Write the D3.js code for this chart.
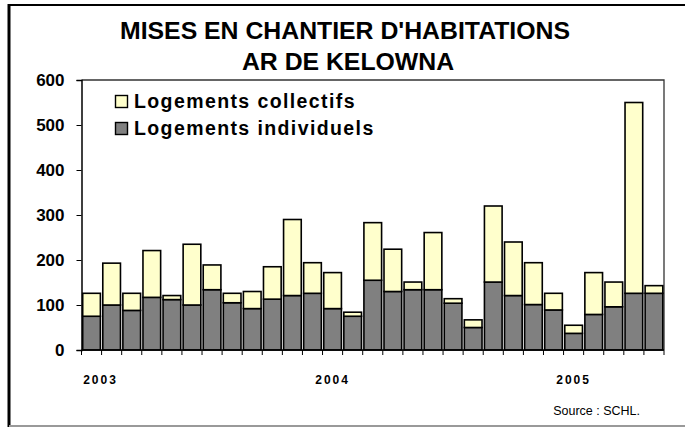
<!DOCTYPE html>
<html><head><meta charset="utf-8">
<script src="https://cdn.jsdelivr.net/npm/d3@7/dist/d3.min.js"></script>
<style>body{margin:0;background:#fff}svg{display:block}</style>
</head><body>
<script>
const months = ["2003-01","2003-02","2003-03","2003-04","2003-05","2003-06","2003-07","2003-08","2003-09","2003-10","2003-11","2003-12",
"2004-01","2004-02","2004-03","2004-04","2004-05","2004-06","2004-07","2004-08","2004-09","2004-10","2004-11","2004-12",
"2005-01","2005-02","2005-03","2005-04","2005-05"];
const individuels = [75,100,88,117,112,100,134,105,92,113,121,126,92,75,155,130,134,134,104,50,151,121,101,89,37,79,96,126,126];
const totals = [126,193,126,221,121,235,189,126,130,185,290,194,172,84,283,224,151,261,114,67,320,240,194,126,55,172,151,550,143];
const collectifs = totals.map((t,i)=>t-individuels[i]);
const yearLabels = ["2003","2004","2005"];
const yearLabelMonth = ["2003-01","2004-01","2005-01"];
const yTicks = [0,100,200,300,400,500,600];
const seriesNames = ["Logements collectifs","Logements individuels"];
const seriesColors = ["#FFFFCC","#808080"];

const W=685,H=427;
const FONT="Liberation Sans, Arial, sans-serif";
const svg=d3.select("body").append("svg").attr("width",W).attr("height",H);
svg.append("rect").attr("width",W).attr("height",H).attr("fill","#fff");
// outer frame
svg.append("line").attr("x1",9).attr("x2",W).attr("y1",5).attr("y2",5).attr("stroke","#000").attr("stroke-width",2);
svg.append("line").attr("x1",9).attr("x2",9).attr("y1",4).attr("y2",427).attr("stroke","#000").attr("stroke-width",3);
svg.append("line").attr("x1",9).attr("x2",W).attr("y1",426).attr("y2",426).attr("stroke","#999").attr("stroke-width",2);

const L=81.5,R=664,T=80,B=350;
const x=d3.scaleBand().domain(months).range([L,R]).paddingInner(0.12).paddingOuter(0.06);
const y=d3.scaleLinear().domain([0,600]).range([B,T]);

// title
svg.append("text").attr("x",345).attr("y",39).attr("text-anchor","middle")
 .attr("font-family",FONT).attr("font-weight","bold").attr("font-size",24.8)
 .text("MISES EN CHANTIER D'HABITATIONS");
svg.append("text").attr("x",348).attr("y",70).attr("text-anchor","middle")
 .attr("font-family",FONT).attr("font-weight","bold").attr("font-size",24.8)
 .text("AR DE KELOWNA");

// plot frame
svg.append("path").attr("d",`M${L},${T}H${R}V${B}`).attr("fill","none").attr("stroke","#333").attr("stroke-width",1.3);

// bars
const stack = months.map((m,i)=>({m,ind:individuels[i],col:collectifs[i]}));
const g=svg.append("g");
g.selectAll("rect.ind").data(stack).join("rect").attr("class","ind")
 .attr("x",d=>x(d.m)).attr("width",x.bandwidth())
 .attr("y",d=>y(d.ind)).attr("height",d=>y(0)-y(d.ind))
 .attr("fill",seriesColors[1]).attr("stroke","#000").attr("stroke-width",1.6);
g.selectAll("rect.col").data(stack).join("rect").attr("class","col")
 .attr("x",d=>x(d.m)).attr("width",x.bandwidth())
 .attr("y",d=>y(d.ind+d.col)).attr("height",d=>y(d.ind)-y(d.ind+d.col))
 .attr("fill",seriesColors[0]).attr("stroke","#000").attr("stroke-width",1.6);

// y axis
const ya=svg.append("g").attr("transform",`translate(${L},0)`)
 .call(d3.axisLeft(y).tickValues(yTicks).tickSize(5).tickPadding(12));
ya.select(".domain").attr("stroke","#000").attr("stroke-width",1.5);
ya.selectAll(".tick line").attr("stroke","#000");
ya.selectAll("text").attr("font-family",FONT).attr("font-weight","bold").attr("font-size",17).attr("fill","#000");

// x axis
svg.append("line").attr("x1",L).attr("x2",R).attr("y1",B).attr("y2",B).attr("stroke","#000").attr("stroke-width",1.5);
const bounds=d3.range(months.length+1);
svg.append("g").selectAll("line").data(bounds).join("line")
 .attr("x1",i=>L+i*(R-L)/months.length).attr("x2",i=>L+i*(R-L)/months.length)
 .attr("y1",B).attr("y2",B+5).attr("stroke","#000").attr("stroke-width",1);
svg.append("g").selectAll("text").data(yearLabels).join("text")
 .attr("x",(d,i)=> i===0 ? x(yearLabelMonth[i])+x.bandwidth()/2+9 : x(yearLabelMonth[i])+x.bandwidth()/2)
 .attr("y",384).attr("text-anchor","middle")
 .attr("font-family",FONT).attr("font-weight","bold").attr("font-size",12)
 .attr("letter-spacing",2).text(d=>d);

// legend
const lg=svg.append("g");
seriesNames.forEach((n,i)=>{
  const yy=95+i*27;
  lg.append("rect").attr("x",115.5).attr("y",yy+0.5).attr("width",12).attr("height",12)
   .attr("fill",seriesColors[i]).attr("stroke","#000").attr("stroke-width",1.4);
  lg.append("text").attr("x",134).attr("y",yy+12.5).attr("font-family",FONT)
   .attr("font-weight","bold").attr("font-size",19.5).attr("letter-spacing",1.4).text(n);
});

// source
svg.append("text").attr("x",640).attr("y",415).attr("text-anchor","end")
 .attr("font-family",FONT).attr("font-size",12.5).text("Source : SCHL.");
</script>
</body></html>
